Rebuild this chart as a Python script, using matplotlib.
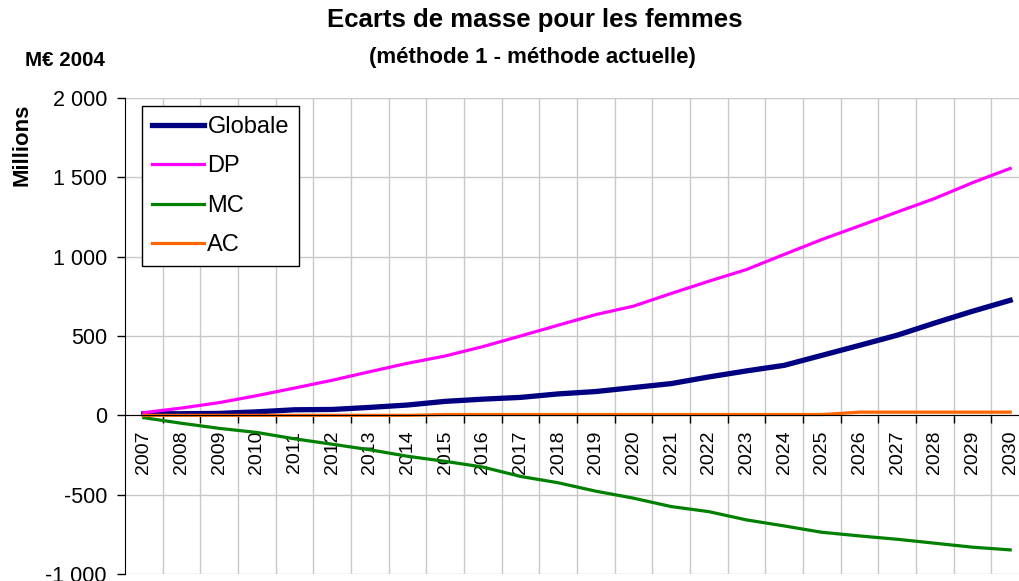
import numpy as np
import matplotlib.pyplot as plt
from matplotlib.ticker import FuncFormatter, FixedLocator

plt.rcParams['font.family'] = ['Liberation Sans', 'DejaVu Sans']

# years and series (M€ 2004)
years = list(range(2007, 2031))
globale = [10, 10, 12, 22, 35, 37, 50, 65, 88, 102, 113, 135,
           150, 175, 200, 242, 280, 315, 378, 441, 505, 582, 656, 725]
dp = [17, 46, 80, 124, 172, 221, 275, 328, 374, 433, 500, 568,
      635, 688, 768, 845, 919, 1014, 1108, 1194, 1281, 1367, 1466, 1556]
mc = [-15, -50, -82, -108, -148, -182, -217, -258, -290, -326, -385, -425,
      -478, -522, -575, -607, -659, -697, -737, -760, -781, -806, -831, -848]
ac = [0, 0, 0, 0, 0, 0, 0, 0, 5, 5, 5, 5,
      5, 5, 5, 5, 5, 5, 5, 20, 20, 20, 20, 20]

W, H = 1020, 581
fig = plt.figure(figsize=(W / 100, H / 100), dpi=100)
ax = fig.add_axes([125 / W, 1 - 574 / H, 904 / W, 476 / H])

x = np.arange(len(years))
ax.plot(x, globale, color='#000080', lw=3.8, label='Globale', zorder=3)
ax.plot(x, dp, color='#FF00FF', lw=2.3, label='DP', zorder=3)
ax.plot(x, mc, color='#008000', lw=2.3, label='MC', zorder=3)
ax.plot(x, ac, color='#FF6600', lw=2.3, label='AC', zorder=3)

ax.set_xlim(-0.5, len(years) - 0.5)
ax.set_ylim(-1000, 2000)

# y axis
ax.set_yticks(np.arange(-1000, 2001, 500))
ax.yaxis.set_major_formatter(FuncFormatter(lambda v, p: f"{int(v):,}".replace(',', ' ')))
ax.tick_params(axis='y', direction='out', length=6, width=1, pad=7, labelsize=15.5)

# x axis on the zero line, ticks between categories
ax.spines['bottom'].set_position(('data', 0))
ax.spines['bottom'].set_zorder(4)
ax.spines['top'].set_visible(False)
ax.spines['right'].set_visible(False)
ax.set_xticks(x)
ax.set_xticklabels([str(y) for y in years], rotation=90, va='top', ha='center')
ax.xaxis.set_minor_locator(FixedLocator(np.arange(0.5, len(years) - 0.5, 1)))
ax.tick_params(axis='x', which='major', length=0, pad=11, labelsize=14)
ax.tick_params(axis='x', which='minor', direction='out', length=6, width=1)

ax.grid(True, axis='y', color='#c8c8c8', lw=1, zorder=0)
ax.grid(True, axis='x', which='minor', color='#c8c8c8', lw=1, zorder=0)
ax.set_axisbelow(True)

leg = ax.legend(loc='upper left', bbox_to_anchor=(142 / W, 1 - 106 / H),
                bbox_transform=fig.transFigure, borderaxespad=0,
                fancybox=False, edgecolor='black', framealpha=1,
                fontsize=17, handlelength=2.2, handletextpad=0.15,
                labelspacing=0.74, borderpad=0.42)
leg.get_frame().set_linewidth(1)

fig.text(535 / W, 1 - 20 / H, 'Ecarts de masse pour les femmes', ha='center', va='center',
         fontsize=18.5, fontweight='bold')
fig.text(532 / W, 1 - 57 / H, '(méthode 1 - méthode actuelle)', ha='center', va='center',
         fontsize=16, fontweight='bold')
fig.text(65 / W, 1 - 60 / H, 'M€ 2004', ha='center', va='center',
         fontsize=14.8, fontweight='bold')
fig.text(22 / W, 1 - 145 / H, 'Millions', ha='center', va='center', rotation=90,
         fontsize=16, fontweight='bold')

fig.savefig('out.png', dpi=100)
